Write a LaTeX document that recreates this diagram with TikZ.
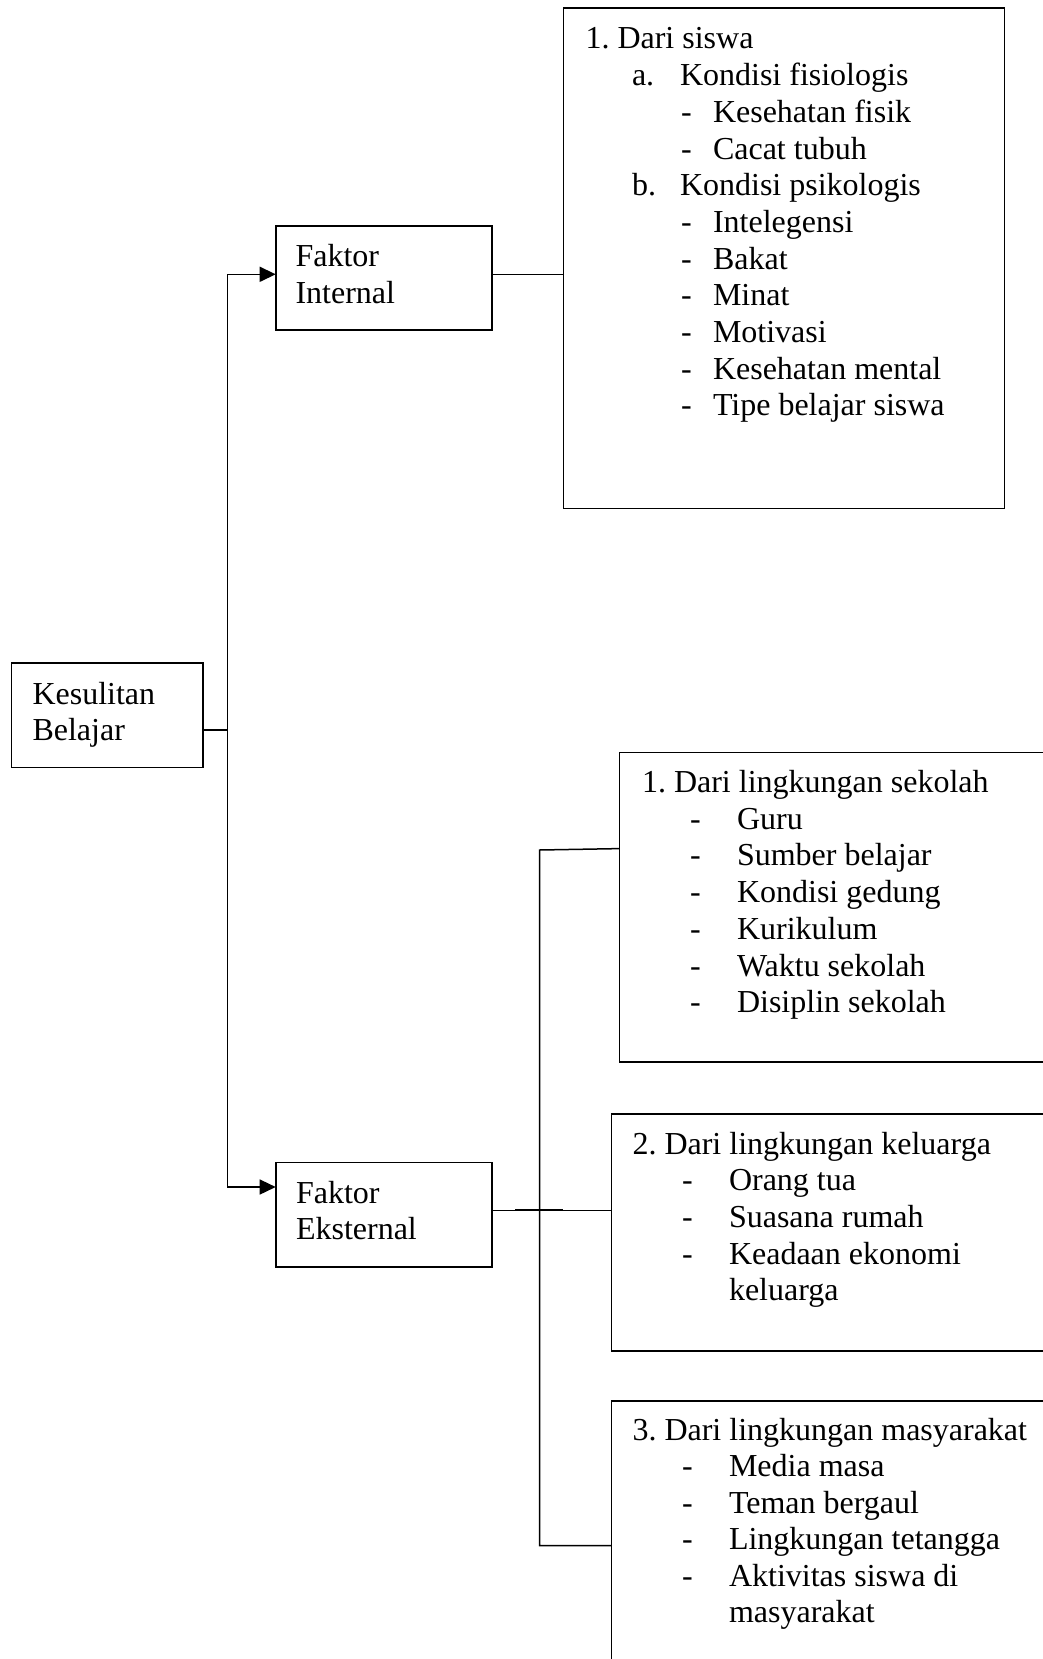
\documentclass[tikz,border=0pt]{standalone}
\usepackage{fontspec}
\setmainfont{Liberation Serif}
\usetikzlibrary{arrows.meta}
\frenchspacing
\tikzset{
  box/.style={draw, line width=1.7pt, rectangle, inner sep=0pt, outer sep=0pt, anchor=north west},
  txt/.style={anchor=base west, inner sep=0pt, outer sep=0pt, font=\frenchspacing\fontsize{32}{36.7}\selectfont},
  conn/.style={line width=1.5pt},
  arr/.style={conn, -{Triangle[length=16pt,width=15pt]}}
}
\begin{document}
\begin{tikzpicture}[x=1pt,y=-1pt]
\useasboundingbox (0,0) rectangle (1043,1659);
\clip (0,0) rectangle (1043,1659);
% boxes
\node[box, minimum width=191.8pt, minimum height=104.3pt] (kb) at (11.5,663.2) {};
\node[box, minimum width=216.1pt, minimum height=104.3pt] (fi) at (275.7,225.7) {};
\node[box, minimum width=216.1pt, minimum height=104.5pt] (fe) at (275.7,1162.5) {};
\node[box, minimum width=441.1pt, minimum height=500.6pt] (b1) at (563.5,8) {};
\node[box, minimum width=440pt, minimum height=309.5pt] (bs) at (619.5,752.5) {};
\node[box, minimum width=448pt, minimum height=237pt] (b2) at (611.5,1114) {};
\node[box, minimum width=448pt, minimum height=300pt] (b3) at (611.5,1401.2) {};
% box texts
\node[txt] (kbt1) at (32.5,704.5) {Kesulitan};
\node[txt] (kbt2) at (32.5,740.5) {Belajar};
\node[txt] (fit1) at (295.5,266.5) {Faktor};
\node[txt] (fit2) at (295.5,303.2) {Internal};
\node[txt] (fet1) at (296,1203) {Faktor};
\node[txt] (fet2) at (296,1239.7) {Eksternal};
% box 1
\node[txt] (t1h) at (585.5,48.9) {1. Dari siswa};
\node[txt] (t1a) at (632,85.6) {a.};
\node[txt] (t1at) at (680,85.6) {Kondisi fisiologis};
\node[txt] (t1b) at (632,195.7) {b.};
\node[txt] (t1bt) at (680,195.7) {Kondisi psikologis};
\foreach \t/\k [count=\i] in {Kesehatan fisik/2, Cacat tubuh/3, Intelegensi/5, Bakat/6, Minat/7, Motivasi/8, Kesehatan mental/9, Tipe belajar siswa/10}{
  \node[txt] (d1\i) at (681,48.9+36.7*\k) {-};
  \node[txt] (i1\i) at (713,48.9+36.7*\k) {\t};
}
% box sekolah
\node[txt] (tsh) at (642,792.5) {1. Dari lingkungan sekolah};
\foreach \t [count=\i] in {Guru, Sumber belajar, Kondisi gedung, Kurikulum, Waktu sekolah, Disiplin sekolah}{
  \node[txt] (ds\i) at (690,792.5+36.7*\i) {-};
  \node[txt] (is\i) at (737,792.5+36.7*\i) {\t};
}
% box keluarga
\node[txt] (t2h) at (632.5,1154.2) {2. Dari lingkungan keluarga};
\foreach \t [count=\i] in {Orang tua, Suasana rumah, Keadaan ekonomi}{
  \node[txt] (d2\i) at (682,1154.2+36.6*\i) {-};
  \node[txt] (i2\i) at (729,1154.2+36.6*\i) {\t};
}
\node[txt] (i24) at (729,1154.2+36.6*4) {keluarga};
% box masyarakat
\node[txt] (t3h) at (632.5,1440.5) {3. Dari lingkungan masyarakat};
\foreach \t [count=\i] in {Media masa, Teman bergaul, Lingkungan tetangga, Aktivitas siswa di}{
  \node[txt] (d3\i) at (682,1440.5+36.4*\i) {-};
  \node[txt] (i3\i) at (729,1440.5+36.4*\i) {\t};
}
\node[txt] (i35) at (729,1440.5+36.4*5) {masyarakat};
% junction coordinates
\coordinate (jTop) at (227.4,274.3);
\coordinate (jMid) at (227.4,730);
\coordinate (jBot) at (227.4,1187);
\coordinate (eTop) at (539.5,850);
\coordinate (eMid) at (539.5,1210.3);
\coordinate (eBot) at (539.5,1545.6);
\coordinate (sIn) at (619.5,848.6);
\coordinate (dblA) at (515,1210.3);
\coordinate (dblB) at (563.3,1210.3);
% connectors
\draw[conn] (kb.east |- jMid) -- (jMid);
\draw[conn] (jTop) -- (jBot);
\draw[arr] (jTop) -- (fi.west |- jTop);
\draw[arr] (jBot) -- (fe.west |- jBot);
\draw[conn] (fi.east |- jTop) -- (b1.west |- jTop);
\draw[conn] (fe.east |- eMid) -- (b2.west |- eMid);
\draw[line width=2.0pt] (dblA) -- (dblB);
\draw[conn] (sIn) -- (eTop) -- (eBot) -- (b3.west |- eBot);
\end{tikzpicture}
\end{document}
